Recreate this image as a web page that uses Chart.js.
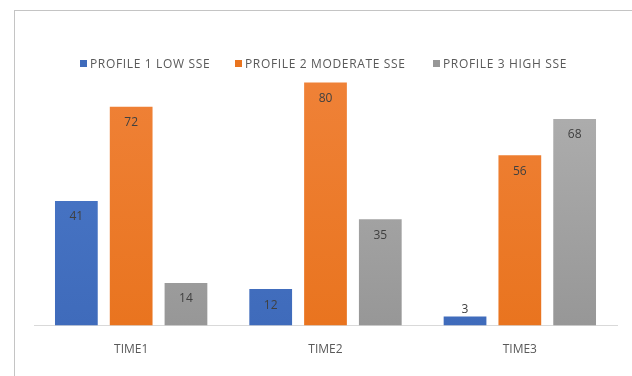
<!DOCTYPE html>
<html>
<head>
<meta charset="utf-8">
<script src="https://cdn.jsdelivr.net/npm/chart.js@4.4.1/dist/chart.umd.min.js"></script>
<style>
html,body{margin:0;padding:0;background:#fff;overflow:hidden;}
#wrap{position:relative;width:632px;height:376px;}
#frame{position:absolute;left:14px;top:10px;width:700px;height:500px;border:1px solid #c4c4c4;box-sizing:border-box;}
#c{position:absolute;left:0;top:0;}
#legend{position:absolute;left:0;top:56px;width:632px;height:16px;font-family:"Open Sans",sans-serif;font-size:12px;color:#595959;letter-spacing:0.65px;}
.item{position:absolute;top:0;white-space:nowrap;line-height:16px;}
.box{display:inline-block;width:7px;height:7px;margin-right:3px;vertical-align:1px;}
</style>
</head>
<body>
<div id="wrap">
<div id="frame"></div>
<canvas id="c" width="632" height="376"></canvas>
<div id="legend"></div>
</div>
<script>
const categories = ['TIME1', 'TIME2', 'TIME3'];
const seriesNames = ['PROFILE 1 LOW SSE', 'PROFILE 2 MODERATE SSE', 'PROFILE 3 HIGH SSE'];
const profile1 = [41, 12, 3];
const profile2 = [72, 80, 56];
const profile3 = [14, 35, 68];
const colors = [['#4d7bcb', '#3f6bbb'], ['#f0833a', '#e9741f'], ['#b3b3b3', '#979797']];
const legendLeft = [80, 235, 433];

// HTML legend (real text)
const lg = document.getElementById('legend');
seriesNames.forEach((name, i) => {
  const it = document.createElement('div');
  it.className = 'item';
  it.style.left = legendLeft[i] + 'px';
  const b = document.createElement('span');
  b.className = 'box';
  b.style.background = colors[i][1];
  it.appendChild(b);
  it.appendChild(document.createTextNode(name));
  lg.appendChild(it);
});

function grad(i) {
  return function(ctx) {
    const ch = ctx.chart;
    const a = ch.chartArea;
    if (!a) return colors[i][1];
    const g = ch.ctx.createLinearGradient(0, a.top, 0, a.bottom);
    g.addColorStop(0, colors[i][0]);
    g.addColorStop(1, colors[i][1]);
    return g;
  };
}

const valueLabels = {
  id: 'valueLabels',
  afterDatasetsDraw(chart) {
    const ctx = chart.ctx;
    ctx.save();
    ctx.font = '12px "Open Sans", sans-serif';
    ctx.textAlign = 'center';
    ctx.textBaseline = 'middle';
    ctx.fillStyle = '#404040';
    chart.data.datasets.forEach((ds, di) => {
      const meta = chart.getDatasetMeta(di);
      meta.data.forEach((el, i) => {
        const h = el.base - el.y;
        const y = h > 26 ? el.y + 16 : el.y - 7;
        ctx.fillText(String(ds.data[i]), el.x, y);
      });
    });
    ctx.restore();
  }
};

new Chart(document.getElementById('c'), {
  type: 'bar',
  data: {
    labels: categories,
    datasets: [
      { label: seriesNames[0], data: profile1, backgroundColor: grad(0) },
      { label: seriesNames[1], data: profile2, backgroundColor: grad(1) },
      { label: seriesNames[2], data: profile3, backgroundColor: grad(2) }
    ]
  },
  options: {
    responsive: false,
    animation: false,
    devicePixelRatio: 1,
    layout: { padding: { top: 52, left: 34, right: 15, bottom: 2 } },
    datasets: { bar: { categoryPercentage: 0.846, barPercentage: 0.78 } },
    scales: {
      x: {
        grid: { display: false, drawTicks: false },
        border: { display: true, color: '#d9d9d9', width: 1 },
        ticks: { color: '#595959', padding: 17, font: { size: 12, family: '"Open Sans", sans-serif' } }
      },
      y: { display: false, min: 0, max: 90 }
    },
    plugins: {
      legend: { display: false },
      tooltip: { enabled: false }
    }
  },
  plugins: [valueLabels]
});
</script>
</body>
</html>
